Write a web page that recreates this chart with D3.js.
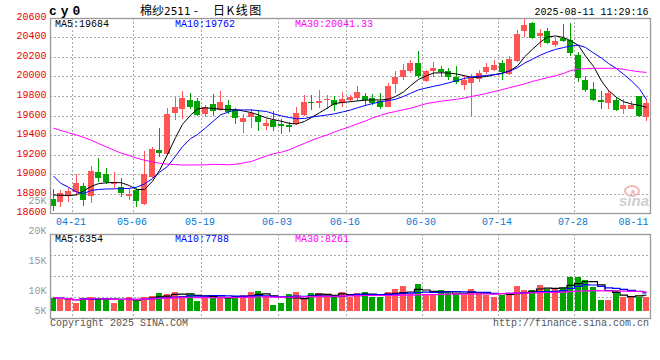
<!DOCTYPE html>
<html><head><meta charset="utf-8">
<script src="https://cdn.jsdelivr.net/npm/d3@7/dist/d3.min.js"></script>
<style>body{margin:0;background:#fff}svg{display:block}text{white-space:pre}</style>
</head><body>
<svg id="c" width="660" height="360"></svg>
<script>
const dates = ["04-17","04-18","04-21","04-22","04-23","04-24","04-25","04-28","04-29","04-30",
"05-06","05-07","05-08","05-09","05-12","05-13","05-14","05-15","05-16","05-19",
"05-20","05-21","05-22","05-23","05-26","05-27","05-28","05-29","05-30","06-03",
"06-04","06-05","06-06","06-09","06-10","06-11","06-12","06-13","06-16","06-17",
"06-18","06-19","06-20","06-23","06-24","06-25","06-26","06-27","06-30","07-01",
"07-02","07-03","07-04","07-07","07-08","07-09","07-10","07-11","07-14","07-15",
"07-16","07-17","07-18","07-21","07-22","07-23","07-24","07-25","07-28","07-29",
"07-30","07-31","08-01","08-04","08-05","08-06","08-07","08-08","08-11"];
const opens = [18746,18719,18780,18821,18879,18780,19019,18999,18897,18872,
18774,18838,18695,18974,19247,19203,19629,19664,19759,19749,
19611,19718,19657,19708,19657,19537,19588,19595,19495,19554,
19513,19500,19510,19606,19742,19725,19759,19759,19731,19759,
19776,19800,19776,19752,19690,19919,19997,20052,20137,19954,
20052,20076,20052,19997,19912,19937,19970,20048,20066,20141,
20025,20158,20464,20549,20416,20464,20321,20396,20372,20219,
19963,19871,19759,19723,19759,19664,19667,19800,19580];
const highs = [18848,18838,18855,18999,18907,19087,19169,19060,19019,18958,
18855,18855,19237,19281,19476,19674,19793,19854,19834,19776,
19707,19820,19854,19759,19674,19616,19664,19657,19568,19650,
19561,19537,19684,19810,19810,19861,19810,19800,19844,19810,
19902,19834,19820,19827,19936,20058,20124,20168,20263,20069,
20150,20110,20083,20110,20014,20025,20066,20134,20168,20168,
20209,20475,20594,20560,20485,20492,20390,20536,20549,20253,
20004,19943,19851,19856,19790,19764,19749,19800,19769];
const lows = [18618,18667,18719,18780,18678,18702,18923,18897,18862,18770,
18736,18667,18685,18958,19179,19196,19554,19565,19664,19598,
19588,19598,19646,19616,19510,19418,19476,19445,19452,19445,
19408,19428,19503,19595,19657,19674,19664,19650,19684,19742,
19752,19698,19708,19664,19684,19834,19964,20039,19981,19938,
19997,19997,19964,19923,19861,19595,19946,20025,20056,19964,
20014,20151,20406,20379,20304,20331,20298,20355,20209,19946,
19844,19749,19667,19662,19650,19616,19664,19588,19544];
const closes = [18678,18808,18831,18907,18736,19033,18964,18917,18917,18805,
18794,18726,18999,19258,19214,19613,19684,19776,19684,19606,
19684,19650,19742,19639,19578,19578,19629,19537,19527,19486,
19493,19480,19629,19742,19725,19752,19769,19708,19769,19787,
19844,19759,19731,19690,19902,19997,20066,20134,20001,20052,
20086,20042,19997,19946,19963,19981,20038,20100,20117,20048,
20178,20434,20526,20390,20441,20345,20362,20365,20236,19987,
19861,19759,19733,19834,19657,19708,19708,19595,19728];
const ma5 = [18787,18784,18780,18789,18828,18876,18903,18912,18915,18912,
18882,18843,18843,18928,19038,19201,19373,19510,19603,19667,
19679,19672,19664,19661,19659,19646,19629,19606,19575,19558,
19541,19519,19513,19539,19579,19628,19677,19722,19733,19742,
19749,19757,19759,19759,19767,19794,19841,19904,19969,20006,
20035,20037,20034,20025,20007,19990,19992,19999,20017,20035,
20056,20107,20199,20278,20352,20404,20414,20398,20365,20317,
20209,20102,19953,19856,19785,19741,19718,19703,19684];
const ma10 = [18981,18908,18866,18818,18801,18834,18843,18848,18850,18851,
18855,18866,18900,18955,19019,19079,19184,19282,19363,19405,
19473,19544,19606,19636,19657,19657,19657,19649,19641,19618,
19595,19579,19567,19569,19585,19595,19606,19617,19636,19656,
19679,19703,19722,19741,19753,19766,19795,19827,19862,19882,
19898,19915,19934,19956,19979,19995,20002,20010,20018,20030,
20054,20089,20136,20176,20218,20248,20276,20295,20311,20320,
20296,20240,20187,20132,20080,20023,19953,19872,19762];
const ma30 = [19471,19448,19424,19401,19377,19346,19313,19278,19243,19214,
19190,19164,19143,19125,19112,19101,19098,19094,19094,19094,
19096,19100,19099,19096,19101,19115,19130,19157,19186,19209,
19225,19250,19281,19315,19346,19375,19403,19432,19460,19488,
19515,19544,19575,19602,19626,19641,19659,19674,19698,19722,
19734,19747,19756,19765,19779,19795,19810,19826,19846,19865,
19885,19904,19924,19949,19969,19988,20007,20030,20059,20076,
20079,20082,20083,20083,20083,20072,20059,20047,20041];
const volumes = [8325,8000,8000,7075,8325,8500,8250,7750,7075,7925,
8500,7425,8500,8825,9500,9250,9750,8825,9250,7575,
8500,8825,8250,8250,8825,9000,9750,10000,8825,6500,
7000,9250,9750,8000,9500,9500,9000,8575,9750,8575,
9500,9750,8575,8575,9750,10333,10833,9250,11167,9250,
9000,10167,9750,9250,9000,10333,9750,9000,8500,9000,
9500,10833,10167,10167,11000,10283,10550,10550,12383,12383,
11833,10717,7750,7750,10167,8575,8825,8575,8575];
const priceTicks = [18600,18800,19000,19200,19400,19600,19800,20000,20200,20400,20600];
const volTicks = [5000,10000,15000,20000,25000];
const volTickLabels = ["5K","10K","15K","20K","25K"];
const dateTicks = ["04-21","05-06","05-19","06-03","06-16","06-30","07-14","07-28"];
const lastDateLabel = "08-11";
const priceLegend = ["MA5:19684","MA10:19762","MA30:20041.33"];
const volLegend = ["MA5:6354","MA10:7788","MA30:8261"];
const symbol = "cy0";
const titleParts = ["棉纱", "2511", " - ", "日K线图"];
const timestamp = "2025-08-11 11:29:16";

const RED = "#ff5555", GREEN = "#00a400";
const maColors = ["#000000", "#0000ff", "#ff00ff"];
const MONO = "'Liberation Mono', 'DejaVu Sans Mono', monospace";
const CJK = "'Noto Sans CJK SC', sans-serif";
const svg = d3.select("#c");

const L = 50, R = 650, T = 18, B = 213, VT = 234, VB = 318;
const x = d3.scaleBand().domain(dates).range([49, 650]).paddingInner(0.211).paddingOuter(0.1055);
const cx = d => Math.round(x(d) + x.bandwidth() / 2);
const y = d3.scaleLinear().domain([18600, 20600]).range([213.25, 17.75]);
const vy = d3.scaleLinear().domain([5000, 10000, 25000]).range([311, 291, 201]);
const gx = d => Math.floor(x(d) + x.step()) + 0.5;

const grid = svg.append("g").attr("stroke", "#aaa").attr("stroke-dasharray", "2,2").attr("stroke-width", 1);
priceTicks.slice(1, -1).forEach(v => {
  const yy = Math.round(y(v)) + 0.5;
  grid.append("line").attr("x1", L).attr("x2", R).attr("y1", yy).attr("y2", yy);
});
[1, 2, 3].forEach(k => {
  const yy = VT + 0.5 + (VB - VT) * k / 4;
  grid.append("line").attr("x1", L).attr("x2", R).attr("y1", yy).attr("y2", yy);
});
dateTicks.forEach(d => {
  grid.append("line").attr("x1", gx(d)).attr("x2", gx(d)).attr("y1", T).attr("y2", B);
  grid.append("line").attr("x1", gx(d)).attr("x2", gx(d)).attr("y1", VT).attr("y2", VB);
});

// watermark
const wm = svg.append("g");
wm.append("ellipse").attr("cx", 632).attr("cy", 191).attr("rx", 7).attr("ry", 5)
  .attr("fill", "none").attr("stroke", "#f2b8b8").attr("stroke-width", 2);
wm.append("circle").attr("cx", 633).attr("cy", 192).attr("r", 2).attr("fill", "#f2b8b8");
wm.append("text").attr("x", 619).attr("y", 206).attr("font-family", "'Liberation Sans', Arial, sans-serif")
  .attr("font-size", 15).attr("font-weight", "bold").attr("font-style", "italic").attr("fill", "#cfcfcf").text("sina");

// candles and volume bars
const cg = svg.append("g").attr("shape-rendering", "crispEdges");
dates.forEach((d, i) => {
  const o = opens[i], c = closes[i], up = c >= o;
  const col = up ? RED : GREEN;
  const X = cx(d);
  const yh = Math.round(y(highs[i])), yl = Math.round(y(lows[i]));
  cg.append("rect").attr("x", X).attr("width", 1).attr("y", yh).attr("height", Math.max(1, yl - yh)).attr("fill", col);
  const yt = Math.round(y(Math.max(o, c))), yb = Math.round(y(Math.min(o, c)));
  cg.append("rect").attr("x", X - 3).attr("width", 6).attr("y", yt).attr("height", Math.max(1, yb - yt)).attr("fill", col);
  const vt = Math.round(vy(volumes[i]));
  cg.append("rect").attr("x", X - 3).attr("width", 6).attr("y", vt).attr("height", 311 - vt).attr("fill", col);
});

// price MAs
[ma5, ma10, ma30].forEach((arr, k) => {
  const line = d3.line().x((v, i) => cx(dates[i]) + 0.5).y(v => y(v));
  svg.append("path").attr("d", line(arr)).attr("fill", "none").attr("stroke", maColors[k]).attr("stroke-width", 1);
});
// volume MAs
function movingAvg(arr, n) {
  return arr.map((_, i) => d3.mean(arr.slice(Math.max(0, i - n + 1), i + 1)));
}
[5, 10, 30].forEach((n, k) => {
  const line = d3.line().x((v, i) => cx(dates[i]) + 0.5).y(v => vy(v)).curve(d3.curveStep);
  svg.append("path").attr("d", line(movingAvg(volumes, n))).attr("fill", "none")
    .attr("stroke", maColors[k]).attr("stroke-width", 1.2);
});

// frames
svg.append("rect").attr("x", L + 0.5).attr("y", T + 0.5).attr("width", R - L).attr("height", B - T)
  .attr("fill", "none").attr("stroke", "#999").attr("stroke-width", 1.3);
svg.append("rect").attr("x", L + 0.5).attr("y", VT + 0.5).attr("width", R - L).attr("height", VB - VT)
  .attr("fill", "none").attr("stroke", "#999").attr("stroke-width", 1.3);

const txt = (xx, yy, s, opt = {}) => svg.append("text").attr("x", xx).attr("y", yy)
  .attr("font-family", opt.family || MONO).attr("font-size", opt.size || 10)
  .attr("font-weight", opt.weight || "normal").attr("fill", opt.fill || "#000")
  .attr("text-anchor", opt.anchor || "start").attr("letter-spacing", opt.ls || 0).text(s);

// y labels
priceTicks.forEach(v => txt(46.5, y(v) + 2, String(v), { fill: "#ee0000", anchor: "end" }));
volTicks.forEach((v, i) => txt(46.5, vy(v) + 3, volTickLabels[i], { fill: "#999", anchor: "end" }));
// x labels
dateTicks.forEach(d => txt(gx(d) - 1.5, 225, d, { fill: "#0a78d2", anchor: "middle" }));
txt(648.5, 225, lastDateLabel, { fill: "#0a78d2", anchor: "end" });

// legends
[55, 175, 295].forEach((xx, k) => {
  txt(xx, 26.5, priceLegend[k], { fill: maColors[k] });
  txt(xx, 241.5, volLegend[k], { fill: maColors[k] });
});

// header
txt(49, 15, symbol, { size: 13, weight: "bold", ls: 4 });
const t = svg.append("text").attr("y", 15).attr("fill", "#000");
t.append("tspan").attr("x", 140).attr("font-family", CJK).attr("font-size", 12).text(titleParts[0]);
t.append("tspan").attr("x", 164).attr("font-family", "'DejaVu Sans', sans-serif").attr("font-size", 10.5).text(titleParts[1]);
t.append("tspan").attr("x", 191).attr("font-family", CJK).attr("font-size", 12).text(titleParts[2]);
t.append("tspan").attr("x", 213).attr("font-family", CJK).attr("font-size", 12).attr("letter-spacing", 1.5).text(titleParts[3]);
txt(648.5, 15, timestamp, { anchor: "end" });
// footer
txt(50, 325.5, "Copyright 2025 SINA.COM", { fill: "#555" });
txt(649, 325.5, "http://finance.sina.com.cn", { fill: "#555", anchor: "end" });
</script>
</body></html>
